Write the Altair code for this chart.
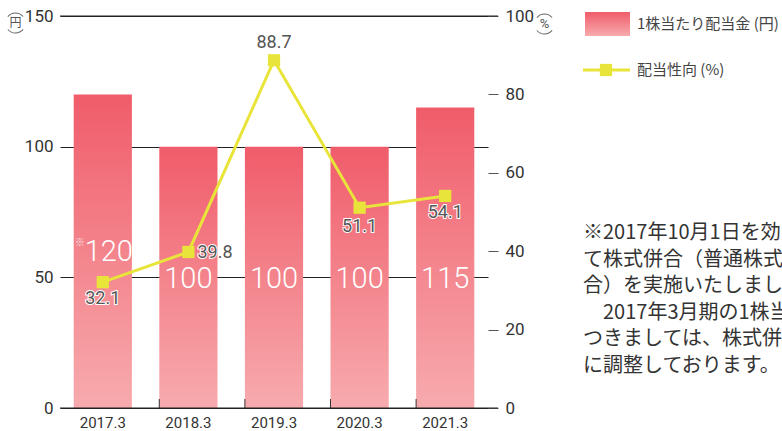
import altair as alt
import pandas as pd

years = ["2017.3", "2018.3", "2019.3", "2020.3", "2021.3"]
dividend = [120, 100, 100, 100, 115]
payout = [32.1, 39.8, 88.7, 51.1, 54.1]
left_ticks = [0, 50, 100, 150]
right_ticks = [0, 20, 40, 60, 80, 100]
legend_labels = ["1株当たり配当金 (円)", "配当性向 (%)"]
note_lines = [
    "※2017年10月1日を効力発生日とし",
    "て株式併合（普通株式5株を1株に併",
    "合）を実施いたしました。",
    "2017年3月期の1株当たり配当金に",
    "つきましては、株式併合後の基準",
    "に調整しております。",
]
note_indent = [0, 0, 0, 20, 0, 0]

df = pd.DataFrame({"year": years, "dividend": dividend, "payout": payout})
one = pd.DataFrame({"k": [0]})

YEL = "#e9e43a"
NUM_FONT = "Roboto"
JP_FONT = "Noto Sans CJK JP"

grad = alt.Gradient(
    gradient="linear",
    stops=[alt.GradientStop(color="#f05c6a", offset=0),
           alt.GradientStop(color="#f7abae", offset=1)],
    x1=0, x2=0, y1=0, y2=1,
)

x_axis = alt.Axis(title=None, domain=False, ticks=False, labelPadding=7,
                  labelFontSize=15, labelColor="#333", labelFont=NUM_FONT, labelAngle=0)
x_scale = alt.Scale(paddingInner=0.32, paddingOuter=0.16)


def X(**kw):
    return alt.X("year:N", sort=years, scale=x_scale, axis=x_axis, **kw)


yL = alt.Y("dividend:Q", scale=alt.Scale(domain=[0, 150], nice=False),
           axis=alt.Axis(title=None, values=left_ticks, grid=True, gridColor="#222",
                         gridWidth=1, domain=False, ticks=False, labelPadding=7,
                         labelFontSize=17, labelColor="#333", labelFont=NUM_FONT))

bars = alt.Chart(df).mark_bar(color=grad).encode(x=X(), y=yL)

bar_lab_rest = alt.Chart(df).transform_filter(alt.datum.year != years[0]).mark_text(
    font=NUM_FONT, fontSize=29, fontWeight=300, color="white", baseline="middle", dy=2
).encode(x=X(), y=alt.datum(50), text="dividend:Q")

bar_lab_first = alt.Chart(df).transform_filter(alt.datum.year == years[0]).mark_text(
    font=NUM_FONT, fontSize=29, fontWeight=300, color="white", baseline="middle", dx=6, dy=-25
).encode(x=X(), y=alt.datum(50), text="dividend:Q")

bar_mark_first = alt.Chart(df).transform_filter(alt.datum.year == years[0]).mark_text(
    font=JP_FONT, fontSize=10, color="#fde6e8", baseline="middle", dx=-23, dy=-34, text="※"
).encode(x=X(), y=alt.datum(50))

band_ticks = alt.Chart(df).transform_filter(alt.datum.year != years[0]).mark_rule(
    color="#333", strokeWidth=1
).encode(x=X(bandPosition=0), y=alt.value(383), y2=alt.value(392))

left = alt.layer(bars, bar_lab_rest, bar_lab_first, bar_mark_first, band_ticks)

yR = alt.Y("payout:Q", scale=alt.Scale(domain=[0, 100], nice=False),
           axis=alt.Axis(orient="right", title=None, values=right_ticks, grid=False,
                         domain=False, ticks=True, tickSize=10, tickColor="#555",
                         labelPadding=7, labelFontSize=17, labelColor="#333",
                         labelFont=NUM_FONT))

line = alt.Chart(df).mark_line(color=YEL, strokeWidth=3).encode(x=X(), y=yR)
pts = alt.Chart(df).mark_point(shape="square", filled=True, size=150, color=YEL,
                               opacity=1).encode(x=X(), y=yR)

placement = {
    "2017.3": (0, 17, "center"),
    "2018.3": (9, 1, "left"),
    "2019.3": (0, -17, "center"),
    "2020.3": (0, 19, "center"),
    "2021.3": (0, 17, "center"),
}
line_labels = []
for yr, (dx, dy, al) in placement.items():
    base = alt.Chart(df).transform_filter(alt.datum.year == yr)
    enc = dict(x=X(), y=yR, text=alt.Text("payout:Q", format=".1f"))
    line_labels.append(base.mark_text(font=NUM_FONT, fontSize=18,
                                      color="white", stroke="white", strokeWidth=2,
                                      align=al, baseline="middle", dx=dx,
                                      dy=dy).encode(**enc))
    line_labels.append(base.mark_text(font=NUM_FONT, fontSize=18,
                                      color="#555", align=al, baseline="middle",
                                      dx=dx, dy=dy).encode(**enc))

right = alt.layer(line, pts, *line_labels)

# axis line extensions
top_rule = alt.Chart(one).mark_rule(color="#222").encode(
    x=alt.value(0), x2=alt.value(438), y=alt.value(0))
bottom_rule = alt.Chart(one).mark_rule(color="#222").encode(
    x=alt.value(0), x2=alt.value(438), y=alt.value(392))

# unit marks
unit_left = alt.Chart(one).mark_text(text="円", font=JP_FONT, fontSize=12, color="#555",
                                     baseline="middle").encode(x=alt.value(-44.5), y=alt.value(7))
unit_right = alt.Chart(one).mark_text(text="%", font=NUM_FONT, fontSize=13, color="#555",
                                      baseline="middle").encode(x=alt.value(484.5), y=alt.value(8))
arcs = []
for cx, cy in [(-44.5, 7), (484.5, 8)]:
    for t1, t2 in [(5.41, 7.15), (2.27, 4.01)]:
        arcs.append(alt.Chart(one).mark_arc(radius=10.5, radius2=9.5, theta=t1, theta2=t2,
                                            color="#666").encode(x=alt.value(cx), y=alt.value(cy)))

# legend
leg_rect = alt.Chart(one).mark_rect(color=grad).encode(
    x=alt.value(525), x2=alt.value(570), y=alt.value(-4), y2=alt.value(20))
leg_t1 = alt.Chart(one).mark_text(text=legend_labels[0], font=JP_FONT, fontSize=15,
                                  color="#444", align="left", baseline="middle").encode(
    x=alt.value(577), y=alt.value(8))
leg_line = alt.Chart(one).mark_rule(color=YEL, strokeWidth=3).encode(
    x=alt.value(523), x2=alt.value(570), y=alt.value(54))
leg_pt = alt.Chart(one).mark_point(shape="square", filled=True, size=150, color=YEL,
                                   opacity=1).encode(x=alt.value(546), y=alt.value(54))
leg_t2 = alt.Chart(one).mark_text(text=legend_labels[1], font=JP_FONT, fontSize=15,
                                  color="#444", align="left", baseline="middle").encode(
    x=alt.value(577), y=alt.value(54))

notes = []
for i, (ln, ind) in enumerate(zip(note_lines, note_indent)):
    notes.append(alt.Chart(one).mark_text(text=ln, font=JP_FONT, fontSize=20, color="#333",
                                          align="left", baseline="middle").encode(
        x=alt.value(523 + ind), y=alt.value(217 + i * 26.6)))

chart = alt.layer(
    left, right, top_rule, bottom_rule, unit_left, unit_right, *arcs,
    leg_rect, leg_t1, leg_line, leg_pt, leg_t2, *notes
).resolve_scale(y="independent").properties(
    width=428, height=392,
    autosize=alt.AutoSizeParams(type="none"),
    padding={"left": 60, "top": 16, "right": 294, "bottom": 23},
).configure(background="white", view=alt.ViewConfig(stroke=None))

chart.save("out.html", embed_options={"renderer": "svg", "actions": False})
